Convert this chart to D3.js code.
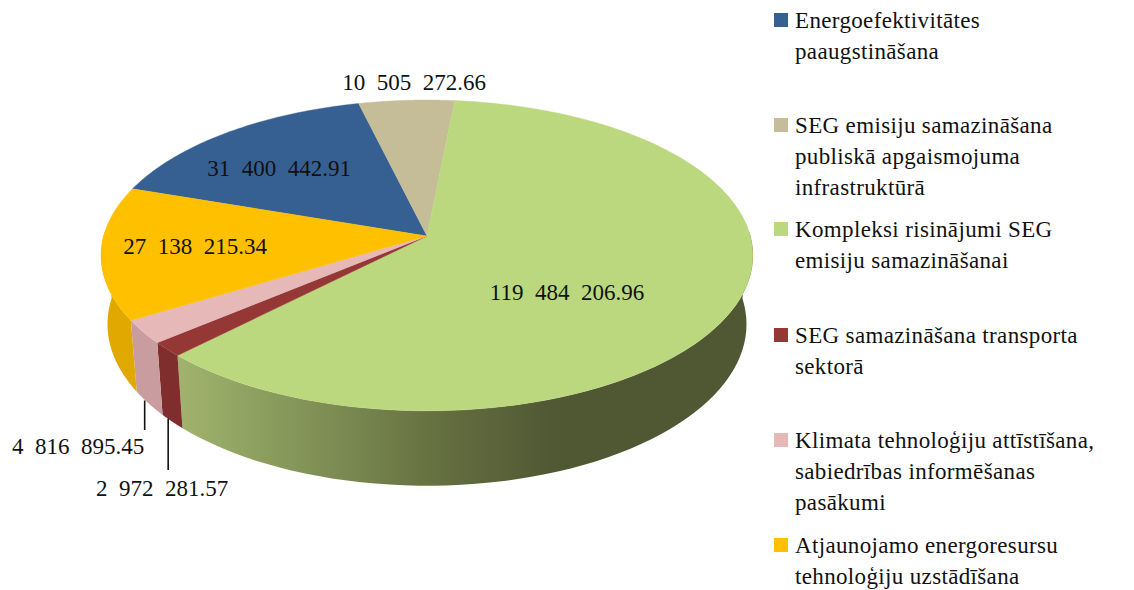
<!DOCTYPE html>
<html><head><meta charset="utf-8">
<script src="https://cdn.jsdelivr.net/npm/d3@7/dist/d3.min.js"></script>
<style>html,body{margin:0;background:#fff}svg{display:block}
text{font-family:"Liberation Serif",serif;font-size:23px;fill:#111}</style></head>
<body><svg id="c" width="1134" height="590"></svg>
<script>
// ---- data ----
const categories = [
  ["Energoefektivitātes","paaugstināšana"],
  ["SEG emisiju samazināšana","publiskā apgaismojuma","infrastruktūrā"],
  ["Kompleksi risinājumi SEG","emisiju samazināšanai"],
  ["SEG samazināšana transporta","sektorā"],
  ["Klimata tehnoloģiju attīstīšana,","sabiedrības informēšanas","pasākumi"],
  ["Atjaunojamo energoresursu","tehnoloģiju uzstādīšana"]
];
const values = [31400442.91,10505272.66,119484206.96,2972281.57,4816895.45,27138215.34];
const valueLabels = ["31  400  442.91","10  505  272.66","119  484  206.96","2  972  281.57","4  816  895.45","27  138  215.34"];
const topColors = ["#376092","#C4BD97","#BBD87F","#953735","#E6B9B8","#FFC000"];
const wallColors = ["#2c4d75","#9d9779","url(#gw)","#7f2d2d","#c99d9f","#e0a800"];

// ---- layout ----
const labelPos = [[279,176],[414,90],[567,300],[162,496],[78,454],[195,254]];
const legendY = [28,133,237,343,448,553];
const cx=427, persp=-0.125;
const topRing={k:323.4,y0:236,a:153};
const botRing={k:317,y0:304,a:159};
const deg=Math.PI/180;
function proj(r,t,f=1){ // t: clockwise from far side
  const u=Math.sin(t)*f, v=-Math.cos(t)*f, d=1+persp*v;
  return [cx+r.k*u/d, r.y0+r.a*v/d];
}
function arcPts(r,a,b){
  const s=d3.range(0,61).map(i=>a+(b-a)*i/60);
  return s.map(t=>proj(r,t));
}
const svg=d3.select("#c");
const grad=svg.append("defs").append("linearGradient").attr("id","gw")
  .attr("gradientUnits","userSpaceOnUse").attr("x1",172).attr("x2",560).attr("y1",0).attr("y2",0);
[[0,"#a2b56f"],[.3,"#86985a"],[.7,"#646e3f"],[1,"#4f5733"]].forEach(s=>grad.append("stop").attr("offset",s[0]).attr("stop-color",s[1]));

const pie=d3.pie().sort(null).value(d=>d).startAngle(-71.3*deg).endAngle((360-71.3)*deg);
const arcs=pie(values);
const line=d3.line();

// walls (front half only)
const fL=88*deg, fR=272*deg;
svg.append("g").selectAll("path").data(arcs.map((d,i)=>({d,i})).filter(o=>{
    const a=o.d.startAngle<0?o.d.startAngle+2*Math.PI:o.d.startAngle;return true;}))
  .join("path")
  .attr("d",o=>{
    let a=Math.max(o.d.startAngle,fL), b=Math.min(o.d.endAngle,fR);
    if(b<=a) return null;
    return line([...arcPts(topRing,a,b),...arcPts(botRing,b,a)])+"Z";
  })
  .attr("fill",o=>wallColors[o.i]);

// top faces
svg.append("g").selectAll("path").data(arcs).join("path")
  .attr("d",d=>line([[cx,topRing.y0],...arcPts(topRing,d.startAngle,d.endAngle)])+"Z")
  .attr("fill",(d,i)=>topColors[i]).attr("stroke",(d,i)=>topColors[i]).attr("stroke-width",.4);

// leaders
[3,4].forEach(i=>{
  const d=arcs[i], p=proj(botRing,(d.startAngle+d.endAngle)/2);
  svg.append("line").attr("x1",p[0]-4).attr("x2",p[0]-4).attr("y1",p[1]-3)
    .attr("y2",labelPos[i][1]-(i==3?26:24)).attr("stroke","#111").attr("stroke-width",1.6);
});

// value labels
svg.append("g").selectAll("text").data(valueLabels).join("text")
  .attr("text-anchor","middle").attr("xml:space","preserve").style("white-space","pre")
  .attr("x",(d,i)=>labelPos[i][0]).attr("y",(d,i)=>labelPos[i][1]).text(d=>d);

// legend
const lg=svg.append("g").selectAll("g").data(categories).join("g");
lg.append("rect").attr("x",774).attr("y",(d,i)=>legendY[i]-15).attr("width",14).attr("height",14)
  .attr("fill",(d,i)=>topColors[i]);
lg.each(function(lines,i){
  d3.select(this).selectAll("text").data(lines).join("text")
    .attr("x",795).attr("y",(d,j)=>legendY[i]+j*31.2).attr("letter-spacing",.35).text(d=>d);
});
</script></body></html>
